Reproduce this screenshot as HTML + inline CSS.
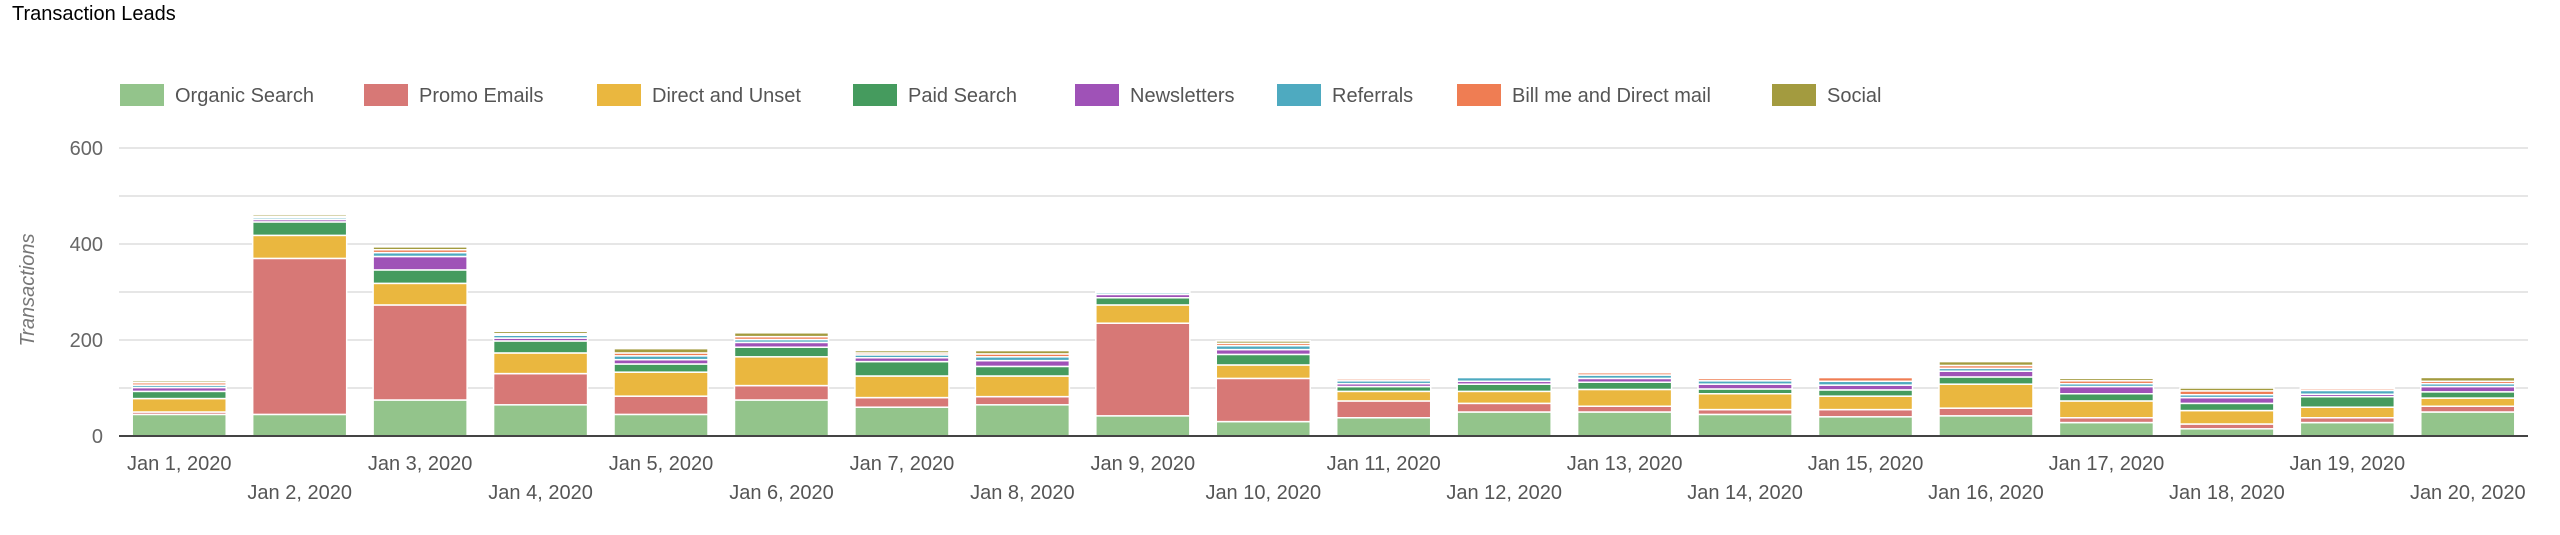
<!DOCTYPE html>
<html><head><meta charset="utf-8"><style>
html,body{margin:0;padding:0;background:#fff;width:2560px;height:535px;overflow:hidden}
svg text{font-family:"Liberation Sans",sans-serif}
</style></head><body>
<svg id="c" width="2560" height="535" xmlns="http://www.w3.org/2000/svg"></svg>
<script>
var s=document.getElementById('c'),h='';
var L=119,R=2528,Y0=436,k=0.48;
h+='<text x="12" y="20" font-size="20" fill="#000">Transaction Leads</text>';
var cols=['#93c48b','#d77876','#eab73f','#459b5e','#9f52b7','#4eaac0','#ef7d53','#a39b3f'];
var names=['Organic Search','Promo Emails','Direct and Unset','Paid Search','Newsletters','Referrals','Bill me and Direct mail','Social'];
var lx=[120,364,597,853,1075,1277,1457,1772];
for(var i=0;i<8;i++){h+='<rect x="'+lx[i]+'" y="84" width="44" height="22" fill="'+cols[i]+'"/><text x="'+(lx[i]+55)+'" y="102" font-size="20" fill="#555">'+names[i]+'</text>';}
for(var v=100;v<=600;v+=100){var y=Y0-v*k;h+='<line x1="'+L+'" x2="'+R+'" y1="'+y+'" y2="'+y+'" stroke="#e6e6e6" stroke-width="2"/>';}
[0,200,400,600].forEach(function(v){h+='<text x="103" y="'+(Y0-v*k+7)+'" font-size="20" fill="#666" text-anchor="end">'+v+'</text>';});
h+='<text transform="translate(34,290) rotate(-90)" font-size="20" font-style="italic" fill="#777" text-anchor="middle">Transactions</text>';
var d=[[45,5,28,15,8,5,5,4],[45,325,48,28,5,4,3,4],[75,198,45,28,28,8,6,6],[65,65,43,25,6,6,3,5],[45,38,50,17,9,8,6,9],[75,30,60,20,10,6,6,8],[60,20,45,30,8,6,4,5],[65,17,43,20,12,8,6,7],[42,193,38,15,7,4,3,3],[30,90,28,22,10,8,5,5],[38,35,20,10,6,6,4,3],[50,18,25,15,6,8,3,3],[50,12,35,15,8,7,5,3],[45,10,33,10,10,7,5,3],[40,15,28,13,10,8,8,3],[42,16,50,15,12,6,6,8],[28,10,35,15,15,6,6,5],[15,10,28,15,12,6,8,6],[28,10,22,22,5,8,4,3],[50,12,17,13,11,6,5,8]];
var step=(R-L)/20,bw=94;
for(var b=0;b<20;b++){var cx=L+step*(b+0.5),acc=0;
 for(var j=0;j<8;j++){var v=d[b][j],y1=Y0-(acc+v)*k,hh=v*k;acc+=v;
  h+='<rect x="'+(cx-bw/2)+'" y="'+y1+'" width="'+bw+'" height="'+hh+'" fill="'+cols[j]+'" stroke="#fff" stroke-width="1.5"/>';}
 var ly=(b%2==0)?470:499;
 h+='<text x="'+cx+'" y="'+ly+'" font-size="20" fill="#555" text-anchor="middle">Jan '+(b+1)+', 2020</text>';}
h+='<line x1="'+L+'" x2="'+R+'" y1="'+Y0+'" y2="'+Y0+'" stroke="#444" stroke-width="2"/>';
s.innerHTML=h;
</script>
</body></html>
